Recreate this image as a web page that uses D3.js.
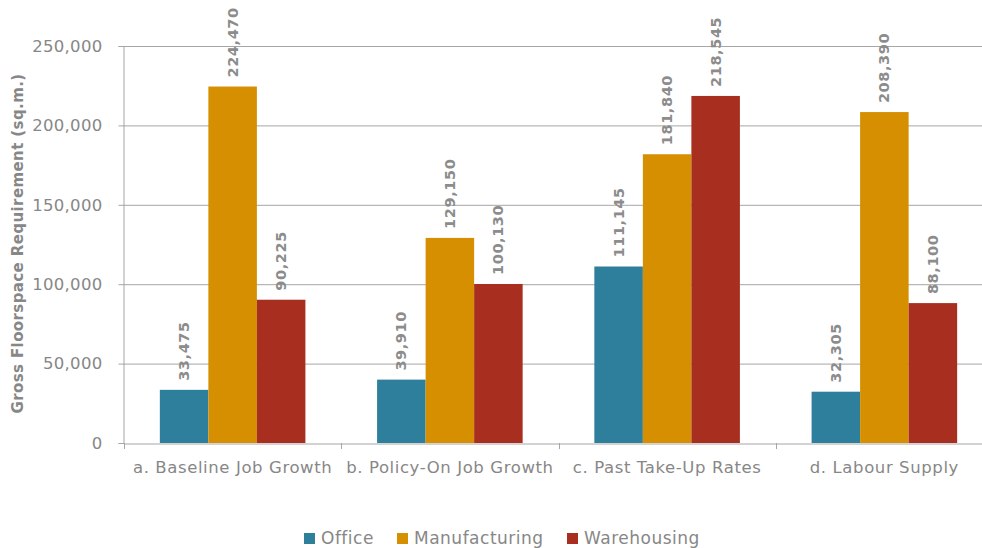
<!DOCTYPE html>
<html><head><meta charset="utf-8">
<script src="https://cdn.jsdelivr.net/npm/d3@7"></script>
<style>body{margin:0;background:#fff}svg{display:block}text{font-family:"DejaVu Sans",sans-serif}</style>
</head><body><svg id="c" width="982" height="548"></svg>
<script>
const categories = ["a. Baseline Job Growth","b. Policy-On Job Growth","c. Past Take-Up Rates","d. Labour Supply"];
const seriesNames = ["Office","Manufacturing","Warehousing"];
const office = [33475, 39910, 111145, 32305];
const manufacturing = [224470, 129150, 181840, 208390];
const warehousing = [90225, 100130, 218545, 88100];
const colors = ["#2e7f9b","#d58f00","#a82f1f"];
const yTicks = [0,50000,100000,150000,200000,250000];

const seriesValues = [office, manufacturing, warehousing];
const svg = d3.select("#c");
const mLeft = 123, mRight = 993, mTop = 46, mBottom = 443;
const x = d3.scaleBand().domain(categories).range([mLeft+1,mRight]).paddingInner(0.33).paddingOuter(0.165);
const xs = d3.scaleBand().domain(seriesNames).range([0,x.bandwidth()]);
const y = d3.scaleLinear().domain([0,250000]).range([mBottom,mTop]);
const fmt = d3.format(",");
const gray = "#878787";
const ff = "'Open Sans',sans-serif";

// gridlines
svg.append("g").selectAll("line").data(yTicks.filter(d=>d>0)).join("line")
  .attr("x1",mLeft).attr("x2",mRight).attr("y1",d=>y(d)+0.5).attr("y2",d=>y(d)+0.5)
  .attr("stroke","#a6a6a6").attr("stroke-width",1);

// y axis
const ya = svg.append("g").attr("transform",`translate(${mLeft+0.5},0)`)
  .call(d3.axisLeft(y).tickValues(yTicks).tickFormat(fmt).tickSizeOuter(0).tickSize(5).tickPadding(16));
ya.select(".domain").attr("stroke","#a6a6a6");
ya.selectAll(".tick line").attr("stroke","#a6a6a6");
ya.selectAll("text").attr("fill",gray).attr("font-size",16.5).attr("font-family",ff).attr("letter-spacing",0.3);

// x axis
const xa = svg.append("g").attr("transform",`translate(0,${mBottom+0.5})`)
  .call(d3.axisBottom(x).tickSize(0).tickPadding(18));
xa.select(".domain").attr("stroke","#a6a6a6");
xa.selectAll("text").attr("fill",gray).attr("font-size",16.5).attr("font-family",ff).attr("letter-spacing",0.6);
const step = x.step();
svg.append("g").selectAll("line").data(categories).join("line")
  .attr("x1",d=>Math.round(x(d)-x.paddingInner()*step/2)+0.5).attr("x2",d=>Math.round(x(d)-x.paddingInner()*step/2)+0.5)
  .attr("y1",mBottom).attr("y2",mBottom+6).attr("stroke","#a6a6a6");

// bars
const g = svg.append("g");
categories.forEach((c,i)=>{
  seriesNames.forEach((s,j)=>{
    const v = seriesValues[j][i];
    const bx = x(c)+xs(s);
    g.append("rect").attr("x",bx).attr("y",y(v)).attr("width",xs.bandwidth()).attr("height",mBottom-y(v)).attr("fill",colors[j]);
    g.append("text").attr("transform",`translate(${bx+xs.bandwidth()/2+5},${y(v)-9}) rotate(-90)`)
      .attr("fill","#8c8c8c").attr("font-size",14.5).attr("font-weight","bold").attr("text-anchor","start")
      .attr("font-family",ff).attr("letter-spacing",0.6).text(fmt(v));
  });
});

// y title
svg.append("text").attr("transform",`translate(23,${(mTop+mBottom)/2-1}) rotate(-90)`)
  .attr("text-anchor","middle").attr("font-size",15).attr("font-weight","bold").attr("fill",gray)
  .attr("font-family",ff).attr("letter-spacing",0.4).text("Gross Floorspace Requirement (sq.m.)");

// legend
const legX = [304, 397, 567];
const lg = svg.append("g");
seriesNames.forEach((s,j)=>{
  lg.append("rect").attr("x",legX[j]).attr("y",533).attr("width",11).attr("height",11).attr("fill",colors[j]);
  lg.append("text").attr("x",legX[j]+17).attr("y",544).attr("font-size",17).attr("fill",gray)
    .attr("font-family",ff).attr("letter-spacing",0.5).text(s);
});
</script></body></html>
